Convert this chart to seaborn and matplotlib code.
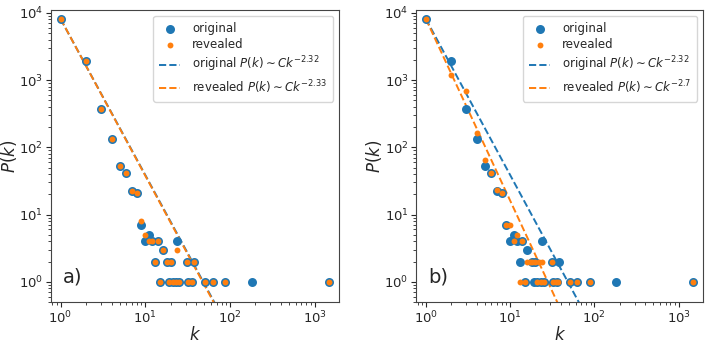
import numpy as np
import pandas as pd
import matplotlib
matplotlib.use("Agg")
import matplotlib.pyplot as plt
import seaborn as sns

sns.set_style("ticks")
plt.rcParams['font.family'] = ['DejaVu Sans']

# degree distribution of the original network (same in both panels)
orig_k = [1, 2, 3, 4, 5, 6, 7, 8, 9, 10, 11, 12, 13, 14, 15, 16, 18, 19, 20,
          21, 23, 24, 25, 31, 32, 36, 38, 51, 63, 88, 180, 1500]
orig_p = [8100, 1950, 375, 134, 53, 41, 22, 21, 7, 4, 5, 4, 2, 4, 1, 3, 2, 1, 2,
          1, 1, 4, 1, 2, 1, 1, 2, 1, 1, 1, 1, 1]

# panel a) revealed
rev_a_k = [1, 2, 3, 4, 5, 6, 7, 8, 9, 10, 11, 12, 13, 14, 15, 16, 18, 19, 20,
           21, 23, 24, 25, 31, 32, 36, 38, 51, 63, 88, 1500]
rev_a_p = [8100, 1950, 375, 134, 53, 41, 22, 21, 8, 5, 4, 4, 2, 4, 1, 3, 2, 1, 2,
           1, 1, 3, 1, 2, 1, 1, 2, 1, 1, 1, 1]

# panel b) revealed
rev_b_k = [1, 2, 3, 4, 5, 6, 7, 8, 9, 10, 11, 12, 13, 14, 15, 16, 17, 18, 20,
           21, 22, 23, 24, 25, 31, 32, 35, 37, 51, 63, 88, 1500]
rev_b_p = [8100, 1200, 680, 165, 64, 41, 23, 21, 7, 7, 4, 5, 1, 4, 1, 2, 2, 2, 2,
           1, 2, 1, 2, 1, 2, 1, 1, 1, 1, 1, 1, 1]

orig_exp = 2.32
rev_exps = [2.33, 2.7]
panel_tags = ["a)", "b)"]

blue = '#1f77b4'
orange = '#ff7f0e'

fig = plt.figure(figsize=(7.08, 3.44), dpi=100)
ax1 = fig.add_axes([0.072, 0.122, 0.407, 0.849])
ax2 = fig.add_axes([0.588, 0.122, 0.405, 0.849])

k_fit = np.array([1.0, 2000.0])

for ax, rk, rp, rexp, tag in zip([ax1, ax2], [rev_a_k, rev_b_k], [rev_a_p, rev_b_p],
                                 rev_exps, panel_tags):
    df_o = pd.DataFrame({"k": orig_k, "p": orig_p})
    df_r = pd.DataFrame({"k": rk, "p": rp})
    C = orig_p[0]
    df_fo = pd.DataFrame({"k": k_fit, "p": C * k_fit ** (-orig_exp)})
    df_fr = pd.DataFrame({"k": k_fit, "p": C * k_fit ** (-rexp)})

    sns.scatterplot(data=df_o, x="k", y="p", ax=ax, color=blue, s=42,
                    linewidth=0, label="original", zorder=3)
    sns.scatterplot(data=df_r, x="k", y="p", ax=ax, color=orange, s=18,
                    linewidth=0, label="revealed", zorder=4)
    sns.lineplot(data=df_fo, x="k", y="p", ax=ax, color=blue, linestyle='--',
                 linewidth=1.4, label=r"original $P(k)\sim Ck^{-%s}$" % orig_exp, zorder=2)
    sns.lineplot(data=df_fr, x="k", y="p", ax=ax, color=orange, linestyle='--',
                 linewidth=1.4, label=r"revealed $P(k)\sim Ck^{-%s}$" % rexp, zorder=2)

    ax.set_xscale('log')
    ax.set_yscale('log')
    ax.set_xlim(0.77, 1950)
    ax.set_ylim(0.5, 1.1e4)
    ax.set_xlabel("$k$", fontsize=12, labelpad=0)
    ax.set_ylabel("$P(k)$", fontsize=12, labelpad=0)
    ax.tick_params(labelsize=9.5, pad=2)
    for sp in ax.spines.values():
        sp.set_visible(True)
        sp.set_color('#444444')
    ax.text(0.04, 0.085, tag, transform=ax.transAxes, fontsize=14, va='center')
    ax.legend(loc='upper right', fontsize=8.5, framealpha=0.8, borderpad=0.5,
              handlelength=1.8, labelspacing=0.3, handletextpad=1.0)

plt.savefig("out.png", dpi=100)
